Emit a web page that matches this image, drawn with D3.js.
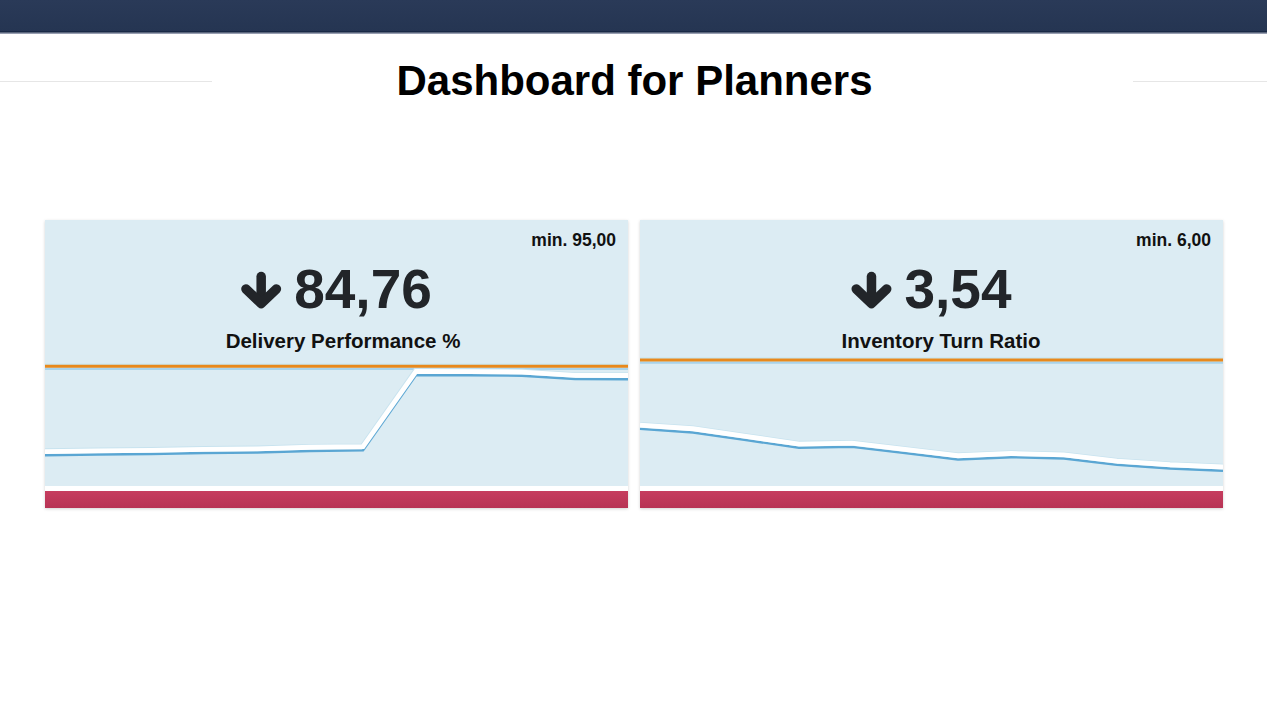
<!DOCTYPE html>
<html>
<head>
<meta charset="utf-8">
<script src="https://cdn.jsdelivr.net/npm/d3@7/dist/d3.min.js"></script>
<style>
  html, body { margin: 0; padding: 0; background: #ffffff; }
  svg { display: block; font-family: "Liberation Sans", Arial, sans-serif; }
</style>
</head>
<body>
<svg id="chart" width="1267" height="713"></svg>
<script>
// ---- data ----
const title = "Dashboard for Planners";
const periods = ["Jan","Feb","Mar","Apr","May","Jun","Jul","Aug","Sep","Oct","Nov","Dec"];
const kpiNames = ["Delivery Performance %", "Inventory Turn Ratio"];
const kpiCurrent = ["84,76", "3,54"];
const kpiMinLabels = ["min. 95,00", "min. 6,00"];
const kpiMinValues = [95, 6];
const deliveryValues = [24.4, 25.0, 25.4, 26.2, 26.6, 27.8, 28.3, 88.1, 87.9, 87.5, 84.9, 84.76];
const inventoryValues = [4.47, 4.39, 4.22, 4.05, 4.07, 3.93, 3.79, 3.84, 3.81, 3.67, 3.59, 3.54];
const deliveryDomain = [0, 100];
const inventoryDomain = [3.2, 6];

const series = [deliveryValues, inventoryValues];
const domains = [deliveryDomain, inventoryDomain];

// ---- layout ----
const W = 1267, H = 713;
const svg = d3.select("#chart");

const defs = svg.append("defs");
const sh = defs.append("filter").attr("id", "shadow").attr("x", "-5%").attr("y", "-5%").attr("width", "110%").attr("height", "110%");
sh.append("feDropShadow").attr("dx", 0).attr("dy", 1).attr("stdDeviation", 1.6).attr("flood-color", "#000").attr("flood-opacity", 0.18);
const rg = defs.append("linearGradient").attr("id", "redgrad").attr("x1", 0).attr("y1", 0).attr("x2", 0).attr("y2", 1);
rg.append("stop").attr("offset", "0%").attr("stop-color", "#c63d5f");
rg.append("stop").attr("offset", "100%").attr("stop-color", "#b73354");
const hg = defs.append("linearGradient").attr("id", "headgrad").attr("x1", 0).attr("y1", 0).attr("x2", 0).attr("y2", 1);
hg.append("stop").attr("offset", "0%").attr("stop-color", "#2a3a58");
hg.append("stop").attr("offset", "100%").attr("stop-color", "#253552");

// header bar
svg.append("rect").attr("x", 0).attr("y", 0).attr("width", W).attr("height", 32).attr("fill", "url(#headgrad)");
svg.append("rect").attr("x", 0).attr("y", 31.5).attr("width", W).attr("height", 1.2).attr("fill", "#0e1f3b");
svg.append("rect").attr("x", 0).attr("y", 32.7).attr("width", W).attr("height", 1).attr("fill", "#6b7690");

// thin grey rules beside title
svg.append("line").attr("x1", 0).attr("x2", 212).attr("y1", 81.5).attr("y2", 81.5).attr("stroke", "#e6e6e6").attr("stroke-width", 1.2);
svg.append("line").attr("x1", 1133).attr("x2", W).attr("y1", 81.5).attr("y2", 81.5).attr("stroke", "#e6e6e6").attr("stroke-width", 1.2);

// title
svg.append("text").attr("x", 634.5).attr("y", 95).attr("text-anchor", "middle")
  .attr("font-size", 42).attr("font-weight", "bold").attr("fill", "#000").text(title);

// panels
const panelX = [45, 640];
const panelW = 583;
const panelTop = 220, panelH = 288;
const plotTop = 360, plotBottom = 486;
const redTop = 491;
const nameShift = [6.5, 9.5];

panelX.forEach((px, i) => {
  const g = svg.append("g");
  // card
  g.append("rect").attr("x", px).attr("y", panelTop).attr("width", panelW).attr("height", panelH)
    .attr("fill", "#dcecf3").attr("filter", "url(#shadow)");
  // white strip & red bar
  g.append("rect").attr("x", px).attr("y", plotBottom).attr("width", panelW).attr("height", redTop - plotBottom).attr("fill", "#ffffff");
  g.append("rect").attr("x", px).attr("y", redTop).attr("width", panelW).attr("height", panelTop + panelH - redTop).attr("fill", "url(#redgrad)");

  const cx = px + panelW / 2;

  // min label
  g.append("text").attr("x", px + panelW - 12).attr("y", 246).attr("text-anchor", "end")
    .attr("font-size", 17.5).attr("font-weight", "bold").attr("fill", "#111").text(kpiMinLabels[i]);

  // big number with arrow, centred as a group
  const num = g.append("text").attr("y", 307.5).attr("font-size", 55).attr("font-weight", "bold")
    .attr("fill", "#222529").text(kpiCurrent[i]);
  const numW = num.node().getComputedTextLength();
  const arrowW = 40, gap = 13;
  const total = arrowW + gap + numW;
  const left = cx - total / 2;
  num.attr("x", left + arrowW + gap);
  const ag = g.append("g").attr("transform", `translate(${left},272)`);
  ag.append("line").attr("x1", 20).attr("x2", 20).attr("y1", 4.5).attr("y2", 30)
    .attr("stroke", "#222529").attr("stroke-width", 9.5).attr("stroke-linecap", "round");
  ag.append("polyline").attr("points", "4.75,17 20,31.5 35.25,17").attr("fill", "none")
    .attr("stroke", "#222529").attr("stroke-width", 9.5).attr("stroke-linecap", "round").attr("stroke-linejoin", "round");

  // kpi name
  g.append("text").attr("x", cx + nameShift[i]).attr("y", 348).attr("text-anchor", "middle")
    .attr("font-size", 20.5).attr("font-weight", "bold").attr("fill", "#111").text(kpiNames[i]);

  // scales
  const x = d3.scalePoint().domain(periods).range([px, px + panelW]);
  const y = d3.scaleLinear().domain(domains[i]).range([plotBottom, plotTop]);

  // min target line (orange) with light-blue underline
  const ym = y(kpiMinValues[i]);
  g.append("line").attr("x1", px).attr("x2", px + panelW).attr("y1", ym + 2.6).attr("y2", ym + 2.6)
    .attr("stroke", "#a9d3ea").attr("stroke-width", 2.4);
  g.append("line").attr("x1", px).attr("x2", px + panelW).attr("y1", ym - 2).attr("y2", ym - 2)
    .attr("stroke", "#c9e8f2").attr("stroke-width", 1.5);
  g.append("line").attr("x1", px).attr("x2", px + panelW).attr("y1", ym).attr("y2", ym)
    .attr("stroke", "#e8891c").attr("stroke-width", 3);

  // trend line
  const data = periods.map((p, k) => ({ p, v: series[i][k] }));
  const line = d3.line().x(d => x(d.p)).y(d => y(d.v));
  g.append("path").datum(data).attr("d", line).attr("fill", "none")
    .attr("stroke", "#c8e3ef").attr("stroke-width", 7).attr("transform", "translate(0,-3.4)")
    .attr("stroke-linejoin", "miter");
  g.append("path").datum(data).attr("d", line).attr("fill", "none")
    .attr("stroke", "#5aa6d3").attr("stroke-width", 2.4).attr("stroke-linejoin", "miter");
  g.append("path").datum(data).attr("d", line).attr("fill", "none")
    .attr("stroke", "#ffffff").attr("stroke-width", 4.8).attr("transform", "translate(0,-3.7)")
    .attr("stroke-linejoin", "miter");
});
</script>
</body>
</html>
